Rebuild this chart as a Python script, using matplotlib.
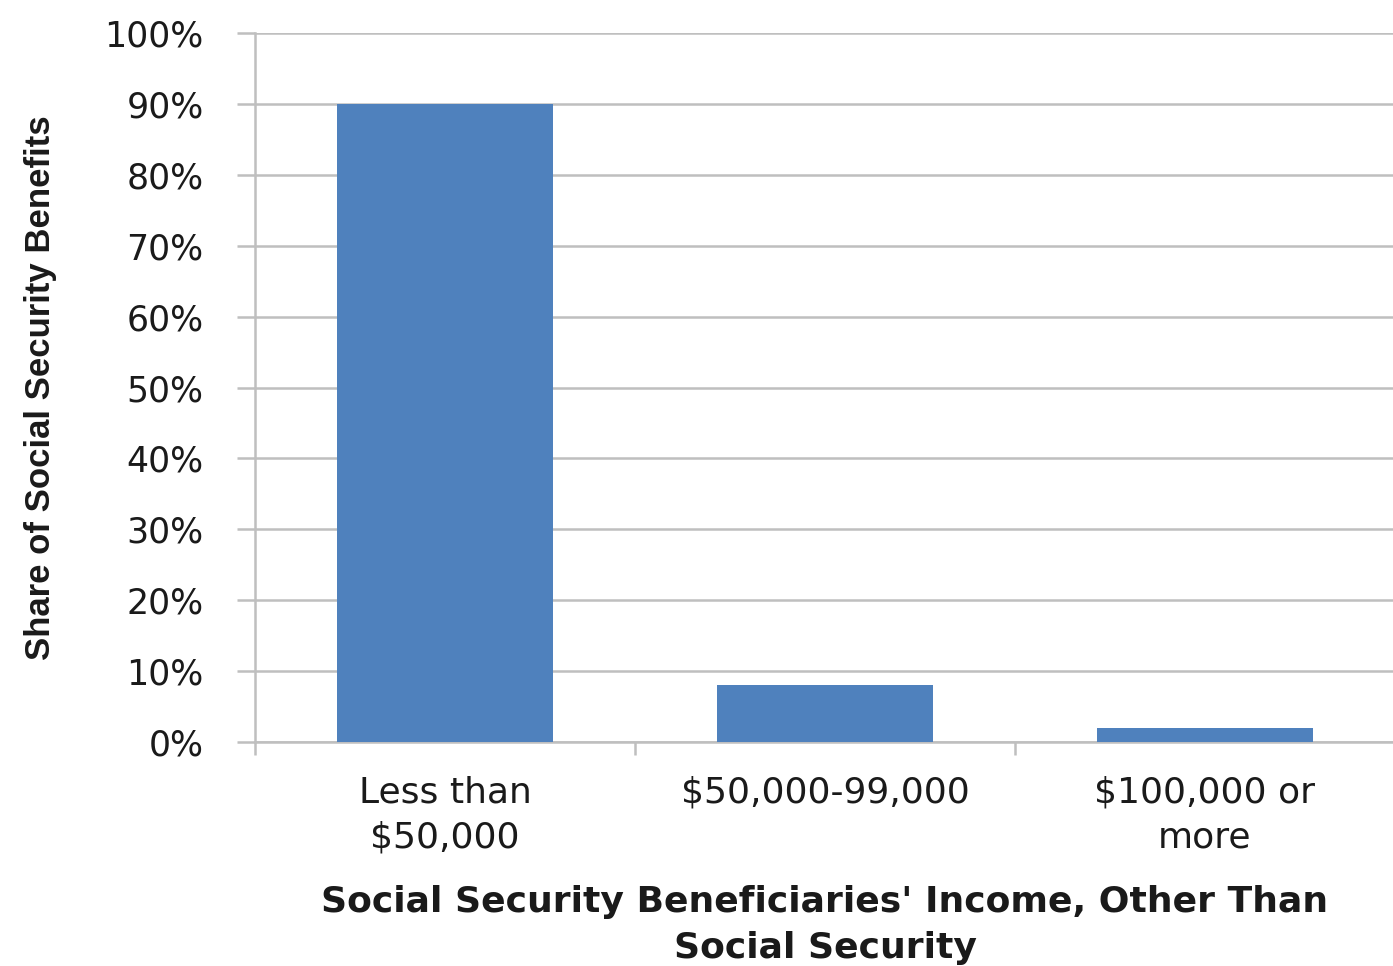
import matplotlib
matplotlib.use("Agg")
import matplotlib.pyplot as plt
from matplotlib.ticker import FixedLocator, PercentFormatter

categories = ["Less than\n$50,000", "$50,000-99,000", "$100,000 or\nmore"]
shares = [90, 8, 2]
yticks = [0, 10, 20, 30, 40, 50, 60, 70, 80, 90, 100]

fig = plt.figure(figsize=(13.93, 9.66), dpi=100)
ax = fig.add_axes([255/1393, 1-742/966, 1140/1393, (742-33)/966])

grid_c = "#bfbfbf"
text_c = "#1a1a1a"
x = list(range(len(categories)))
ax.bar(x, shares, width=0.567, color="#4f81bd", zorder=3)

ax.set_xlim(-0.5, 2.5)
ax.set_ylim(0, 100)
ax.yaxis.set_major_locator(FixedLocator(yticks))
ax.yaxis.set_major_formatter(PercentFormatter(decimals=0))
ax.yaxis.grid(True, color=grid_c, linewidth=1.8, zorder=0)
ax.set_axisbelow(True)

for s in ["top", "right"]:
    ax.spines[s].set_visible(False)
ax.spines["left"].set_color(grid_c)
ax.spines["left"].set_linewidth(1.8)
ax.spines["bottom"].set_color(grid_c)
ax.spines["bottom"].set_linewidth(1.8)

ax.tick_params(axis="y", direction="out", length=13, width=1.8, color=grid_c,
               pad=24, labelsize=25, labelcolor=text_c)
ax.set_xticks(x)
ax.set_xticklabels(categories, fontsize=26, color=text_c, linespacing=1.42)
ax.tick_params(axis="x", which="major", length=0, pad=24)
ax.set_xticks([-0.5, 0.5, 1.5, 2.5], minor=True)
ax.tick_params(axis="x", which="minor", direction="out", length=9, width=1.8, color=grid_c)

ax.set_xlabel("Social Security Beneficiaries' Income, Other Than\nSocial Security",
              fontsize=26, fontweight="bold", color=text_c, labelpad=22, linespacing=1.42)
ax.set_ylabel("Share of Social Security Benefits", fontsize=25, fontweight="bold",
              color=text_c, family=["Liberation Sans", "DejaVu Sans"])
ax.yaxis.set_label_coords(-(255-57)/1140, 0.5)

fig.savefig("out.png", dpi=100, facecolor="white")
